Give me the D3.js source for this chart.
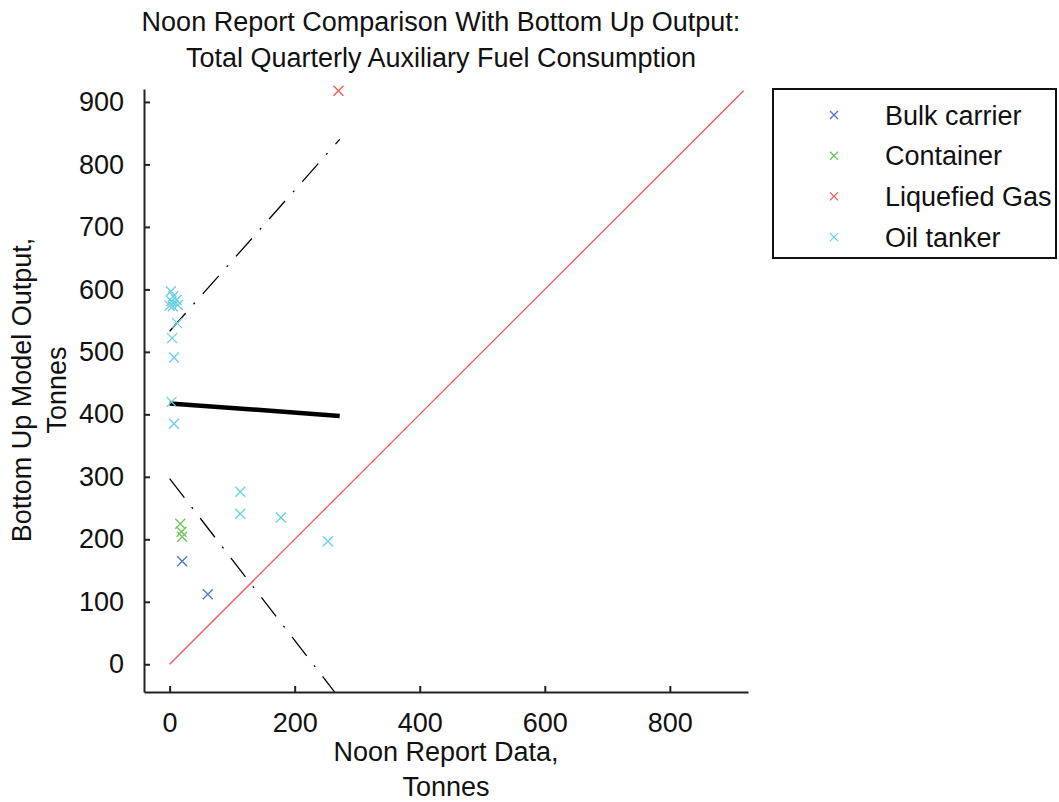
<!DOCTYPE html>
<html>
<head>
<meta charset="utf-8">
<script src="https://d3js.org/d3.v7.min.js"></script>
<style>
  html, body { margin: 0; padding: 0; background: #fff; }
  svg { display: block; font-family: "Liberation Sans", Arial, sans-serif; }
</style>
</head>
<body>
<svg id="chart" width="1059" height="802"></svg>
<script>
// ---- data ----
const titleLines = ["Noon Report Comparison With Bottom Up Output:", "Total Quarterly Auxiliary Fuel Consumption"];
const xLabelLines = ["Noon Report Data,", "Tonnes"];
const yLabelLines = ["Bottom Up Model Output,", "Tonnes"];
const xTicks = [0, 200, 400, 600, 800];
const yTicks = [0, 100, 200, 300, 400, 500, 600, 700, 800, 900];
const categories = ["Bulk carrier", "Container", "Liquefied Gas", "Oil tanker"];
const colors = ["#4a74cc", "#6cc35a", "#f25757", "#66d0e0"];

const bulkCarrier = [[20, 165], [61, 112]];
const container = [[17, 225], [19, 212], [20, 204]];
const liquefiedGas = [[270, 918]];
const oilTanker = [
  [2, 597], [6, 589], [3, 581], [11, 583], [5, 573], [13, 575], [0, 574],
  [12, 546], [4, 522], [7, 491], [3, 420], [7, 385],
  [113, 276], [113, 241], [178, 235], [253, 197]
];
const seriesData = [bulkCarrier, container, liquefiedGas, oilTanker];

// regression fit and prediction bounds (x at ends, y values)
const fitX = [0, 272];
const fitY = [417.5, 397.5];
const upperY = [533, 840];
const lowerY = [297, -55];
const diagX = [0, 918];

// ---- layout ----
const svg = d3.select("#chart");
const x = d3.scaleLinear().domain([-41, 925]).range([144, 748]);
const y = d3.scaleLinear().domain([-44.4, 920.7]).range([692, 89]);
const FS = 27;

svg.append("clipPath").attr("id", "clip")
  .append("rect").attr("x", 144).attr("y", 89).attr("width", 604).attr("height", 603);

const plot = svg.append("g").attr("clip-path", "url(#clip)");

// y = x reference line
plot.append("line")
  .attr("x1", x(diagX[0])).attr("y1", y(diagX[0]))
  .attr("x2", x(diagX[1])).attr("y2", y(diagX[1]))
  .attr("stroke", colors[2]).attr("stroke-width", 1.3);

// bounds
const lineGen = d3.line().x(d => x(d[0])).y(d => y(d[1]));
[upperY, lowerY].forEach(ys => {
  plot.append("path")
    .attr("d", lineGen(fitX.map((v, i) => [v, ys[i]])))
    .attr("fill", "none").attr("stroke", "#000").attr("stroke-width", 1.3)
    .attr("stroke-dasharray", "24,12,2,12");
});

// markers (not clipped)
const S = 5;
const markers = svg.append("g");
seriesData.forEach((pts, si) => {
  const g = markers.append("g");
  g.selectAll("path").data(pts).enter().append("path")
    .attr("d", d => `M${x(d[0]) - S},${y(d[1]) - S}L${x(d[0]) + S},${y(d[1]) + S}M${x(d[0]) - S},${y(d[1]) + S}L${x(d[0]) + S},${y(d[1]) - S}`)
    .attr("stroke", colors[si]).attr("stroke-width", 1.3).attr("fill", "none");
});

// fit line
plot.append("path")
  .attr("d", lineGen(fitX.map((v, i) => [v, fitY[i]])))
  .attr("fill", "none").attr("stroke", "#000").attr("stroke-width", 4.5);

// axes
const xAxis = svg.append("g").attr("transform", "translate(0,692)")
  .call(d3.axisBottom(x).tickValues(xTicks).tickSizeInner(-6).tickSizeOuter(0).tickPadding(21));
const yAxis = svg.append("g").attr("transform", "translate(144,0)")
  .call(d3.axisLeft(y).tickValues(yTicks).tickSizeInner(-6).tickSizeOuter(0).tickPadding(20));
[xAxis, yAxis].forEach(a => {
  a.select(".domain").attr("stroke", "#222").attr("stroke-width", 2);
  a.selectAll(".tick line").attr("stroke", "#222").attr("stroke-width", 2);
  a.selectAll("text").attr("font-size", FS).attr("fill", "#111").attr("font-family", "Liberation Sans, Arial, sans-serif");
});

// title
svg.append("g").selectAll("text").data(titleLines).enter().append("text")
  .attr("x", 441).attr("y", (d, i) => 31 + i * 36)
  .attr("text-anchor", "middle").attr("font-size", FS).attr("fill", "#111")
  .text(d => d);

// x label
svg.append("g").selectAll("text").data(xLabelLines).enter().append("text")
  .attr("x", 446).attr("y", (d, i) => 761 + i * 35)
  .attr("text-anchor", "middle").attr("font-size", FS).attr("fill", "#111")
  .text(d => d);

// y label
svg.append("g").selectAll("text").data(yLabelLines).enter().append("text")
  .attr("transform", (d, i) => `translate(${31 + i * 35},390) rotate(-90)`)
  .attr("text-anchor", "middle").attr("font-size", FS).attr("fill", "#111")
  .text(d => d);

// legend
const lg = svg.append("g");
lg.append("rect").attr("x", 773).attr("y", 89).attr("width", 283).attr("height", 169)
  .attr("fill", "#fff").attr("stroke", "#111").attr("stroke-width", 2);
const rows = lg.selectAll("g.row").data(categories).enter().append("g")
  .attr("transform", (d, i) => `translate(0,${115 + i * 40.7})`);
rows.append("path")
  .attr("d", `M${834 - 4},-4L${834 + 4},4M${834 - 4},4L${834 + 4},-4`)
  .attr("stroke", (d, i) => colors[i]).attr("stroke-width", 1.3);
rows.append("text").attr("x", 885).attr("y", 9.5)
  .attr("font-size", FS).attr("fill", "#111").text(d => d);
</script>
</body>
</html>
